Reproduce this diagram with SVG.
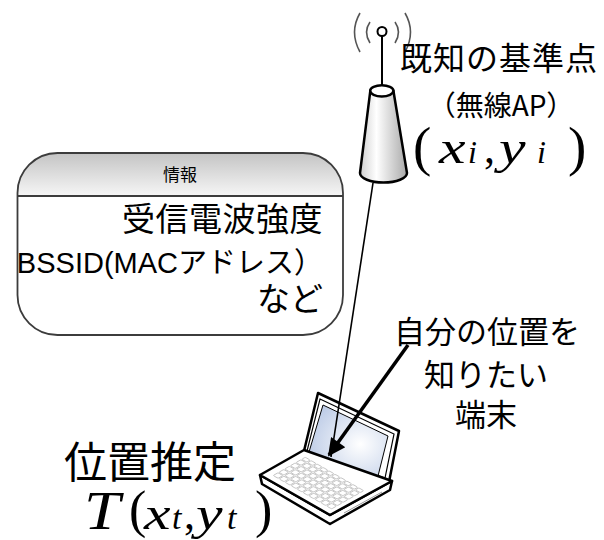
<svg xmlns="http://www.w3.org/2000/svg" width="604" height="540" viewBox="0 0 604 540">
  <style>
    .jp { font-family: "Noto Sans CJK JP", "Noto Sans", sans-serif; fill: #000; }
    .lat { font-family: "Liberation Sans", "Noto Sans CJK JP", sans-serif; fill: #000; }
    .math { font-family: "Liberation Serif", serif; font-style: italic; fill: #000; }
    .paren { font-family: "Liberation Serif", serif; fill: #000; }
    .outline { stroke: #000; stroke-width: 2.5; stroke-linejoin: round; }
    .key { fill: #fff; stroke: #bdbdbd; stroke-width: 0.9; vector-effect: non-scaling-stroke; }
  </style>
  <defs>
    <linearGradient id="coneFill" x1="0" y1="0" x2="1" y2="0">
      <stop offset="0" stop-color="#cfcfcf"/>
      <stop offset="0.35" stop-color="#ffffff"/>
      <stop offset="1" stop-color="#a9a9a9"/>
    </linearGradient>
    <linearGradient id="headFill" x1="0" y1="0" x2="0" y2="1">
      <stop offset="0" stop-color="#c4c4c4"/>
      <stop offset="1" stop-color="#f6f6f6"/>
    </linearGradient>
    <radialGradient id="screenFill" cx="0.65" cy="0.55" r="0.7">
      <stop offset="0" stop-color="#ffffff"/>
      <stop offset="1" stop-color="#bccbe6"/>
    </radialGradient>
    <marker id="head" viewBox="0 0 10 10" refX="9" refY="5" markerWidth="6.5" markerHeight="5" orient="auto" markerUnits="strokeWidth">
      <path d="M0,0 L10,5 L0,10 Z" fill="#000"/>
    </marker>
  </defs>

  <rect width="604" height="540" fill="#fff"/>

  <!-- wireless access point -->
  <g id="access-point">
    <g fill="none" stroke="#555" stroke-width="1.6">
      <path d="M360,13 Q349,32 360,52"/>
      <path d="M370,22 Q363,32 370,43"/>
      <path d="M405,13 Q416,32 405,52"/>
      <path d="M395,22 Q402,32 395,43"/>
    </g>
    <line x1="382" y1="36" x2="382" y2="86" stroke="#000" stroke-width="2"/>
    <circle cx="382" cy="31.5" r="4.5" fill="#fff" stroke="#000" stroke-width="2"/>
    <path d="M370.3,90.8 L360,173 A23.5,9.5 0 0 0 407,173 L393.4,90.8 Z" fill="url(#coneFill)" class="outline"/>
    <ellipse cx="381.8" cy="90.8" rx="11.6" ry="5.6" fill="#fff" class="outline" stroke-width="2"/>
    <text class="jp" x="499" y="70" font-size="32" text-anchor="middle" letter-spacing="1">既知の基準点</text>
    <text class="jp" x="501" y="116" font-size="28" text-anchor="middle">（無線AP）</text>
    <text class="paren" x="413" y="165" font-size="55">(</text>
    <text class="math" font-size="46" transform="translate(439,163) scale(1.3,1)">x</text>
    <text class="math" x="468" y="163" font-size="32">i</text>
    <text class="paren" x="484" y="163" font-size="44">,</text>
    <text class="math" font-size="46" transform="translate(499,163) scale(1.3,1)">y</text>
    <text class="math" x="537" y="163" font-size="32">i</text>
    <text class="paren" x="568" y="165" font-size="55">)</text>
  </g>

  <!-- information box -->
  <g id="info">
    <path d="M17.5,196 V193 A40,40 0 0 1 57.5,153 H303 A40,40 0 0 1 343,193 V196 Z" fill="url(#headFill)"/>
    <rect x="17.5" y="153" width="325.5" height="182" rx="40" ry="40" fill="none" stroke="#3c3c3c" stroke-width="1.8"/>
    <line x1="17.5" y1="196" x2="343" y2="196" stroke="#3c3c3c" stroke-width="1.8"/>
    <text class="jp" x="180" y="181" font-size="17" text-anchor="middle">情報</text>
    <text class="jp" x="323" y="231" font-size="33" text-anchor="end" letter-spacing="0.5">受信電波強度</text>
    <text class="lat" x="323" y="273" font-size="29" text-anchor="end">BSSID(MACアドレス）</text>
    <text class="jp" x="323" y="311" font-size="33" text-anchor="end">など</text>
  </g>

  <!-- laptop terminal -->
  <g id="terminal">
    <polygon points="318,393 399,431 389,482 304,451" fill="#fff" class="outline"/>
    <polygon points="320,399 394,434 385,478 307,451" fill="none" stroke="#000" stroke-width="1.2"/>
    <polygon points="323,405 388,436 378,476 309,452" fill="url(#screenFill)" stroke="#000" stroke-width="1"/>
    <polygon points="260,475 262,484 330,524 390,490 392,481 330,515" fill="#fff" class="outline"/>
    <polygon points="260,475 304,450 392,481 330,515" fill="#fff" class="outline"/>
    <line x1="344" y1="513" x2="382" y2="492" stroke="#999" stroke-width="1"/>
    <g transform="matrix(0.70,0.40,0.44,-0.25,260,475)">
      <rect class="key" x="10" y="14" width="7" height="11" rx="1.5"/>
      <rect class="key" x="18.5" y="14" width="7" height="11" rx="1.5"/>
      <rect class="key" x="27" y="14" width="7" height="11" rx="1.5"/>
      <rect class="key" x="35.5" y="14" width="7" height="11" rx="1.5"/>
      <rect class="key" x="44" y="14" width="7" height="11" rx="1.5"/>
      <rect class="key" x="52.5" y="14" width="7" height="11" rx="1.5"/>
      <rect class="key" x="61" y="14" width="7" height="11" rx="1.5"/>
      <rect class="key" x="69.5" y="14" width="7" height="11" rx="1.5"/>
      <rect class="key" x="78" y="14" width="7" height="11" rx="1.5"/>
      <rect class="key" x="86.5" y="14" width="7" height="11" rx="1.5"/>

      <rect class="key" x="10" y="27" width="7" height="11" rx="1.5"/>
      <rect class="key" x="18.5" y="27" width="7" height="11" rx="1.5"/>
      <rect class="key" x="27" y="27" width="7" height="11" rx="1.5"/>
      <rect class="key" x="35.5" y="27" width="7" height="11" rx="1.5"/>
      <rect class="key" x="44" y="27" width="7" height="11" rx="1.5"/>
      <rect class="key" x="52.5" y="27" width="7" height="11" rx="1.5"/>
      <rect class="key" x="61" y="27" width="7" height="11" rx="1.5"/>
      <rect class="key" x="69.5" y="27" width="7" height="11" rx="1.5"/>
      <rect class="key" x="78" y="27" width="7" height="11" rx="1.5"/>
      <rect class="key" x="86.5" y="27" width="7" height="11" rx="1.5"/>

      <rect class="key" x="10" y="40" width="7" height="11" rx="1.5"/>
      <rect class="key" x="18.5" y="40" width="7" height="11" rx="1.5"/>
      <rect class="key" x="27" y="40" width="7" height="11" rx="1.5"/>
      <rect class="key" x="35.5" y="40" width="7" height="11" rx="1.5"/>
      <rect class="key" x="44" y="40" width="7" height="11" rx="1.5"/>
      <rect class="key" x="52.5" y="40" width="7" height="11" rx="1.5"/>
      <rect class="key" x="61" y="40" width="7" height="11" rx="1.5"/>
      <rect class="key" x="69.5" y="40" width="7" height="11" rx="1.5"/>
      <rect class="key" x="78" y="40" width="7" height="11" rx="1.5"/>
      <rect class="key" x="86.5" y="40" width="7" height="11" rx="1.5"/>

      <rect class="key" x="10" y="53" width="7" height="11" rx="1.5"/>
      <rect class="key" x="18.5" y="53" width="7" height="11" rx="1.5"/>
      <rect class="key" x="27" y="53" width="7" height="11" rx="1.5"/>
      <rect class="key" x="35.5" y="53" width="7" height="11" rx="1.5"/>
      <rect class="key" x="44" y="53" width="7" height="11" rx="1.5"/>
      <rect class="key" x="52.5" y="53" width="7" height="11" rx="1.5"/>
      <rect class="key" x="61" y="53" width="7" height="11" rx="1.5"/>
      <rect class="key" x="69.5" y="53" width="7" height="11" rx="1.5"/>
      <rect class="key" x="78" y="53" width="7" height="11" rx="1.5"/>
      <rect class="key" x="86.5" y="53" width="7" height="11" rx="1.5"/>

      <rect class="key" x="10" y="66" width="7" height="11" rx="1.5"/>
      <rect class="key" x="18.5" y="66" width="7" height="11" rx="1.5"/>
      <rect class="key" x="27" y="66" width="7" height="11" rx="1.5"/>
      <rect class="key" x="35.5" y="66" width="7" height="11" rx="1.5"/>
      <rect class="key" x="44" y="66" width="7" height="11" rx="1.5"/>
      <rect class="key" x="52.5" y="66" width="7" height="11" rx="1.5"/>
      <rect class="key" x="61" y="66" width="7" height="11" rx="1.5"/>
      <rect class="key" x="69.5" y="66" width="7" height="11" rx="1.5"/>
      <rect class="key" x="78" y="66" width="7" height="11" rx="1.5"/>
      <rect class="key" x="86.5" y="66" width="7" height="11" rx="1.5"/>

      <rect class="key" x="10" y="79" width="7" height="8" rx="1.5"/>
      <rect class="key" x="18.5" y="79" width="7" height="8" rx="1.5"/>
      <rect class="key" x="27" y="79" width="7" height="8" rx="1.5"/>
      <rect class="key" x="35.5" y="79" width="7" height="8" rx="1.5"/>
      <rect class="key" x="44" y="79" width="7" height="8" rx="1.5"/>
      <rect class="key" x="52.5" y="79" width="7" height="8" rx="1.5"/>
      <rect class="key" x="61" y="79" width="7" height="8" rx="1.5"/>
      <rect class="key" x="69.5" y="79" width="7" height="8" rx="1.5"/>
      <rect class="key" x="78" y="79" width="7" height="8" rx="1.5"/>
      <rect class="key" x="86.5" y="79" width="7" height="8" rx="1.5"/>
    </g>
    <text class="jp" x="487" y="343" font-size="31" text-anchor="middle">自分の位置を</text>
    <text class="jp" x="486" y="386" font-size="31" text-anchor="middle">知りたい</text>
    <text class="jp" x="486" y="426" font-size="31" text-anchor="middle">端末</text>
  </g>

  <!-- position estimate label -->
  <g id="estimate">
    <text class="jp" x="64" y="478" font-size="43">位置推定</text>
    <text class="math" font-size="54" transform="translate(84,529) scale(1.2,1)">T</text>
    <text class="paren" x="129" y="527" font-size="52">(</text>
    <text class="math" font-size="46" transform="translate(144,529) scale(1.3,1)">x</text>
    <text class="math" x="172" y="529" font-size="34">t</text>
    <text class="paren" x="184" y="529" font-size="44">,</text>
    <text class="math" font-size="46" transform="translate(196,529) scale(1.3,1)">y</text>
    <text class="math" x="227" y="529" font-size="34">t</text>
    <text class="paren" x="255" y="527" font-size="52">)</text>
  </g>

  <!-- connectors -->
  <g id="connectors" fill="none" stroke="#000">
    <line x1="373" y1="183" x2="331" y2="457" stroke-width="1.6"/>
    <line x1="408" y1="345" x2="329" y2="455" stroke-width="3.5" marker-end="url(#head)"/>
  </g>
</svg>
